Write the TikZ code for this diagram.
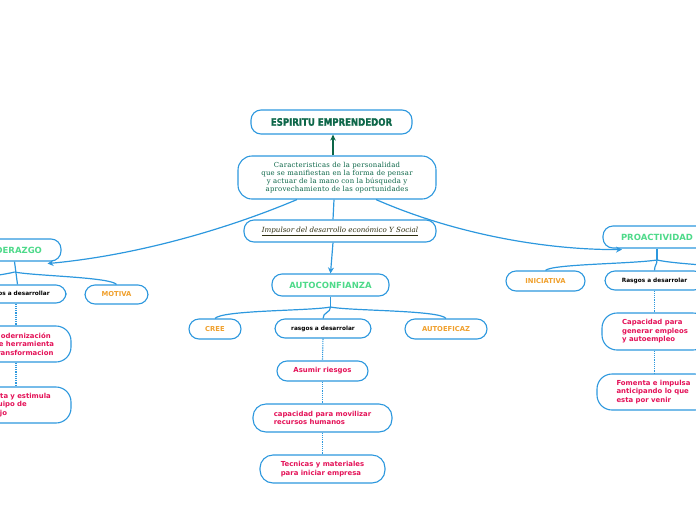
\documentclass[tikz,border=0pt]{standalone}
\usepackage{fontspec}
\setmainfont{DejaVu Sans}
\newfontfamily\titfont{DejaVu Sans}[FakeStretch=0.84,FakeBold=1.5]
\newfontfamily\serfont{DejaVu Serif}[LetterSpace=3]
\newfontfamily\serifit{DejaVu Serif}
\usetikzlibrary{arrows.meta,calc}
\definecolor{lblue}{RGB}{45,152,222}
\definecolor{tgreen}{RGB}{78,218,138}
\definecolor{torange}{RGB}{240,160,45}
\definecolor{tpink}{RGB}{228,18,88}
\definecolor{dgreen}{RGB}{12,102,72}
\definecolor{olive}{RGB}{45,45,15}
\hyphenpenalty=10000
\tikzset{
  box/.style={draw=lblue, line width=1.1pt, rounded corners=10pt, fill=white, inner sep=0pt, align=center},
  gtitle/.style={box, text=tgreen, font=\bfseries\fontsize{8.5}{10}\selectfont},
  otitle/.style={box, text=torange, font=\bfseries\fontsize{6.8}{8}\selectfont},
  rasgo/.style={box, text=black, font=\bfseries\fontsize{5.8}{7}\selectfont},
  pinkbox/.style={box, text=tpink, align=left, font=\bfseries\fontsize{6.9}{8.6}\selectfont},
  conn/.style={draw=lblue, line width=1.2pt},
  arr/.style={conn, -{Stealth[length=6pt,width=6pt]}},
  dotconn/.style={draw=lblue, line width=1.1pt, dash pattern=on 1.2pt off 1pt}
}
\begin{document}
\begin{tikzpicture}[x=1pt,y=-1pt]
\useasboundingbox (0,0) rectangle (696,520);
% nodes
\node[box, minimum width=161pt, minimum height=24pt, text=dgreen, font=\titfont\bfseries\fontsize{10.2}{11}\selectfont] (espiritu) at (331.5,122) {ESPIRITU EMPRENDEDOR};
\node[box, rounded corners=14pt, minimum width=198pt, minimum height=43pt, text=dgreen, font=\serfont\fontsize{6.9}{8}\selectfont] (carac) at (337,177.5) {Caracteristicas de la personalidad\\que se manifiestan en la forma de pensar\\y actuar de la mano con la búsqueda y\\aprovechamiento de las oportunidades};
\node[box, minimum width=192pt, minimum height=22pt, text=olive, font=\serifit\itshape\fontsize{7.1}{8}\selectfont] (impulsor) at (340,231) {\underline{Impulsor del desarrollo económico Y Social}};
\node[gtitle, minimum width=117pt, minimum height=22pt] (autoconf) at (330.5,285) {AUTOCONFIANZA};
\node[otitle, minimum width=52pt, minimum height=20pt] (cree) at (215,329) {CREE};
\node[rasgo, minimum width=96pt, minimum height=19pt] (rasgosC) at (323,328.5) {rasgos a desarrolar};
\node[otitle, minimum width=82pt, minimum height=20pt] (autoef) at (446,329) {AUTOEFICAZ};
\node[pinkbox, align=center, minimum width=91pt, minimum height=20pt] (asumir) at (322.5,371) {Asumir riesgos};
\node[pinkbox, rounded corners=13pt, minimum width=139pt, minimum height=28pt] (capac) at (322.5,418) {capacidad para movilizar\\recursos humanos};
\node[pinkbox, rounded corners=13pt, minimum width=125pt, minimum height=28pt] (tecnicas) at (322.5,469) {Tecnicas y materiales\\para iniciar empresa};
% left
\node[gtitle, minimum width=93pt, minimum height=22pt] (lider) at (14.5,250) {LIDERAZGO};
\node[rasgo, minimum width=100pt, minimum height=18pt] (rasgosL) at (16,294) {Rasgos a desarrollar};
\node[otitle, minimum width=63pt, minimum height=19pt] (motiva) at (116.5,294.5) {MOTIVA};
\node[pinkbox, rounded corners=15pt, minimum width=94pt, minimum height=36pt, text width=74pt] (modern) at (24,344) {\hspace*{7pt}Modernización\\\hspace*{7pt}de herramienta\\\hspace*{7pt}transformacion};
\node[pinkbox, rounded corners=15pt, minimum width=94pt, minimum height=36pt, text width=90pt] (orienta) at (24,405) {Orienta y estimula\\el equipo de\\trabajo};
% right
\node[gtitle, minimum width=108pt, minimum height=22pt] (proact) at (657,237) {PROACTIVIDAD};
\node[otitle, minimum width=79pt, minimum height=20pt] (inic) at (545.5,281) {INICIATIVA};
\node[rasgo, minimum width=99pt, minimum height=19pt] (rasgosR) at (654.5,280.5) {Rasgos a desarrolar};
\node[pinkbox, rounded corners=15pt, minimum width=106pt, minimum height=37pt] (capR) at (655,331.5) {Capacidad para\\generar empleos\\y autoempleo};
\node[pinkbox, rounded corners=15pt, minimum width=113pt, minimum height=36pt] (fomenta) at (653.5,392) {Fomenta e impulsa\\anticipando lo que\\esta por venir};
% coordinates
\coordinate (jc) at (330.5,307);
\coordinate (jl) at (14.5,272);
\coordinate (jr) at (657,260);
\coordinate (offL) at (-60,285);
\coordinate (offR) at (760,272);
% main connectors
\draw[draw=dgreen, line width=1.1pt, -{Stealth[length=6pt,width=5.5pt]}] ([xshift=-4pt]carac.north) -- ([xshift=1.5pt]espiritu.south);
\draw[conn] ([xshift=-3pt]carac.south) -- ([xshift=-7pt]impulsor.north);
\draw[arr] ([xshift=-7pt]impulsor.south) -- (autoconf.north);
\draw[arr] ([xshift=-40pt]carac.south) .. controls (220,232) and (130,256) .. ([xshift=33pt,yshift=-2pt]lider.south);
\draw[arr] ([xshift=39pt]carac.south) .. controls (450,232) and (540,250) .. ([xshift=-35pt,yshift=-1pt]proact.south);
% center branches
\draw[conn] (autoconf.south) -- (jc);
\draw[conn] (jc) .. controls (310,311) and (222,310) .. (cree.north);
\draw[conn] (jc) .. controls (330.5,313) and (323,312) .. (rasgosC.north);
\draw[conn] (jc) .. controls (350,311) and (440,310) .. (autoef.north);
\draw[dotconn] (rasgosC.south) -- (asumir.north);
\draw[dotconn] (asumir.south) -- (capac.north);
\draw[dotconn] (capac.south) -- (tecnicas.north);
% left branches
\draw[conn] (lider.south) -- ([xshift=1.5pt]rasgosL.north);
\draw[conn] (jl) .. controls (35,276) and (110,277) .. (motiva.north);
\draw[conn] (jl) .. controls (0,276) and (-40,279) .. (offL);
\draw[dotconn] (rasgosL.south) -- (rasgosL.south |- modern.north);
\draw[dotconn] (rasgosL.south |- modern.south) -- (rasgosL.south |- orienta.north);
% right branches
\draw[conn] (proact.south) -- (jr);
\draw[conn] (jr) .. controls (630,264) and (552,264) .. (inic.north);
\draw[conn] (jr) .. controls (657,265) and (654.5,265) .. (rasgosR.north);
\draw[conn] (jr) .. controls (680,265) and (740,266) .. (offR);
\draw[dotconn] (rasgosR.south) -- (rasgosR.south |- capR.north);
\draw[dotconn] (rasgosR.south |- capR.south) -- (rasgosR.south |- fomenta.north);
\end{tikzpicture}
\end{document}
